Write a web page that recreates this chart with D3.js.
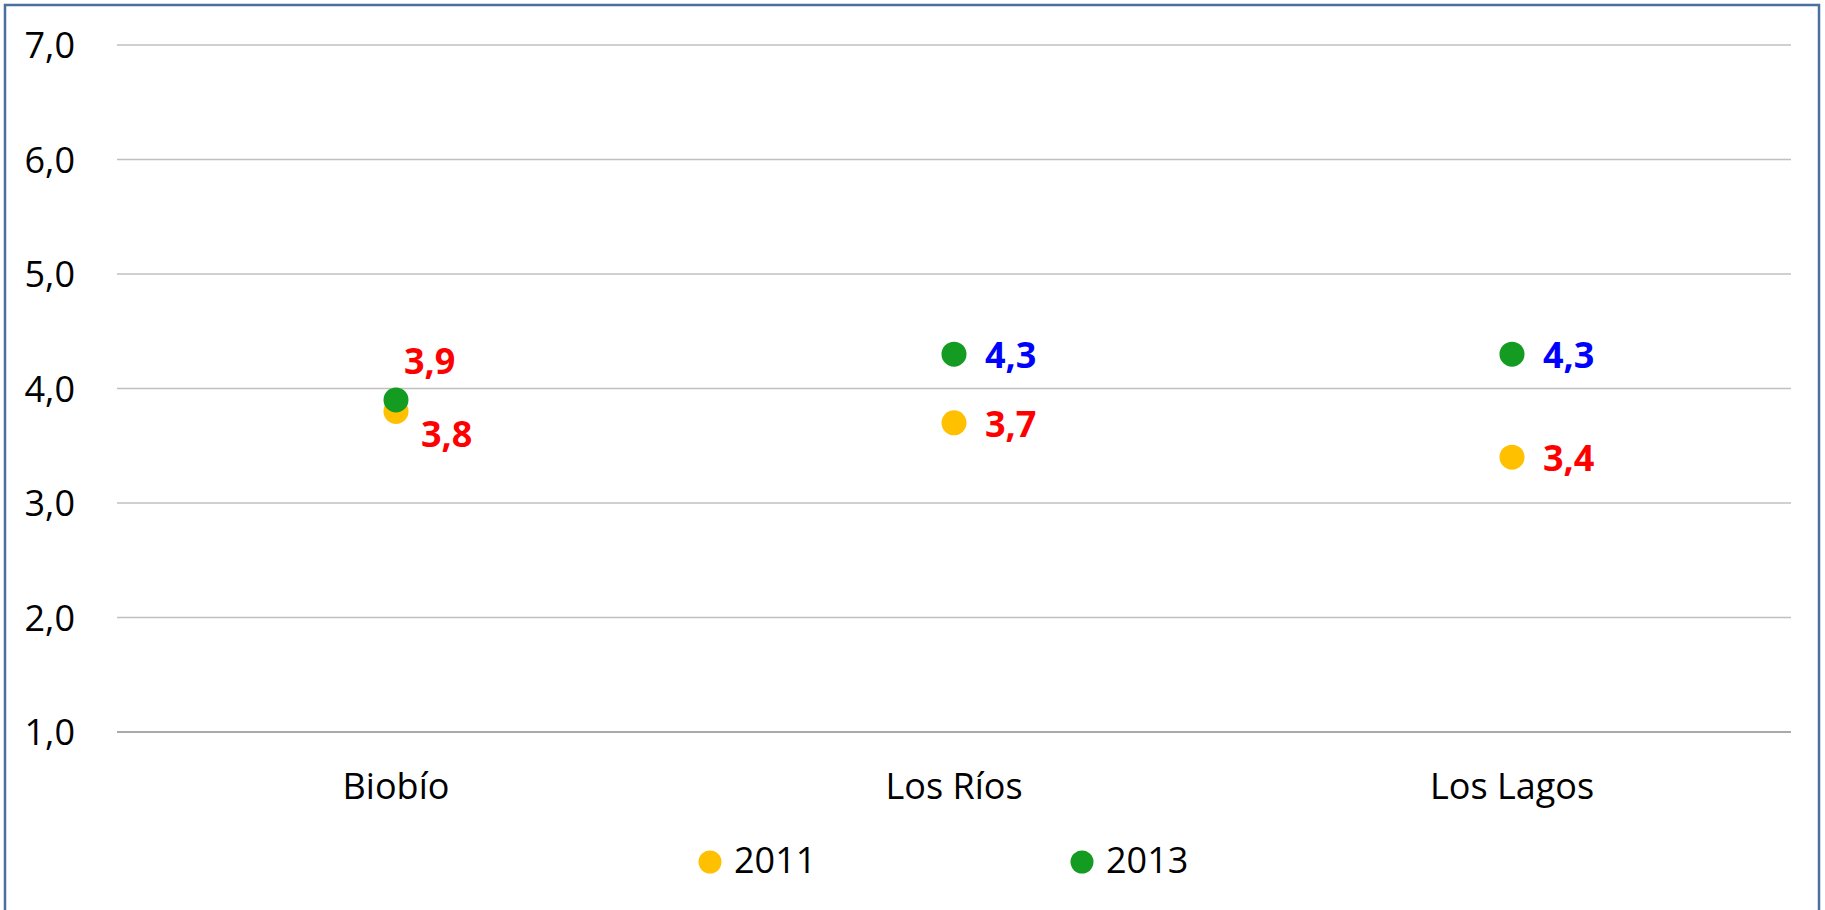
<!DOCTYPE html>
<html lang="es">
<head>
<meta charset="UTF-8">
<title>Biobío, Los Ríos, Los Lagos 2011 - 2013</title>
<script src="https://d3js.org/d3.v7.min.js"></script>
<style>
  html, body { margin: 0; padding: 0; background: #fff; }
  svg { display: block; font-family: "Open Sans", "DejaVu Sans", sans-serif; }
</style>
</head>
<body>
<svg id="chart" width="1825" height="910"></svg>
<script>
// data
const regions = ["Biobío", "Los Ríos", "Los Lagos"];
const years = ["2011", "2013"];
const values2011 = [3.8, 3.7, 3.4];
const values2013 = [3.9, 4.3, 4.3];
const yTicks = [1, 2, 3, 4, 5, 6, 7];

const seriesColor = { "2011": "#FFC000", "2013": "#149C22" };
// label text colour per point (as in the original)
const labelColor = {
  "2011": ["#FF0000", "#FF0000", "#FF0000"],
  "2013": ["#FF0000", "#0000FF", "#0000FF"]
};

const svg = d3.select("#chart");
const W = 1825, H = 910;
const margin = { top: 45, right: 34, bottom: 178, left: 117 };
const fontSize = "36px";

// outer frame (bottom edge runs off the picture)
svg.append("rect")
  .attr("x", 5).attr("y", 5)
  .attr("width", W - 11).attr("height", H + 10)
  .attr("fill", "none")
  .attr("stroke", "#4A6FA0")
  .attr("stroke-width", 2.5);

const x = d3.scaleBand().domain(regions).range([margin.left, W - margin.right]);
const y = d3.scaleLinear().domain([1, 7]).range([H - margin.bottom, margin.top]);

// gridlines
svg.append("g")
  .selectAll("line")
  .data(yTicks)
  .join("line")
  .attr("x1", margin.left).attr("x2", W - margin.right)
  .attr("y1", d => y(d)).attr("y2", d => y(d))
  .attr("stroke", d => d === 1 ? "#8C8C8C" : "#C0C0C0")
  .attr("stroke-width", 1.5);

const fmt = d => d3.format(".1f")(d).replace(".", ",");

// y axis labels
const yAxis = d3.axisLeft(y)
  .tickValues(yTicks)
  .tickFormat(fmt)
  .tickSize(0)
  .tickPadding(42);
const yg = svg.append("g").attr("transform", `translate(${margin.left},0)`).call(yAxis);
yg.attr("font-family", null).attr("font-size", null);
yg.select(".domain").remove();
yg.selectAll("text")
  .style("font-size", fontSize)
  .attr("fill", "#000")
  .attr("dy", "0.36em");

// x axis labels
const xAxis = d3.axisBottom(x).tickSize(0).tickPadding(41);
const xg = svg.append("g").attr("transform", `translate(0,${y(1)})`).call(xAxis);
xg.attr("font-family", null).attr("font-size", null);
xg.select(".domain").remove();
xg.selectAll("text")
  .style("font-size", fontSize)
  .attr("fill", "#000");

// points
const series = [
  { year: "2011", values: values2011 },
  { year: "2013", values: values2013 }
];

// label placement: [dx, dy to baseline] relative to the point
function labelOffset(year, i) {
  if (i === 0) return year === "2011" ? [25, 36] : [8, -26];
  return [31, 14];
}

series.forEach(s => {
  const g = svg.append("g");
  g.selectAll("circle")
    .data(s.values)
    .join("circle")
    .attr("cx", (d, i) => x(regions[i]) + x.bandwidth() / 2)
    .attr("cy", d => y(d))
    .attr("r", 12.5)
    .attr("fill", seriesColor[s.year]);

  g.selectAll("text")
    .data(s.values)
    .join("text")
    .attr("x", (d, i) => x(regions[i]) + x.bandwidth() / 2 + labelOffset(s.year, i)[0])
    .attr("y", (d, i) => y(d) + labelOffset(s.year, i)[1])
    .attr("fill", (d, i) => labelColor[s.year][i])
    .style("font-size", fontSize)
    .style("font-weight", "bold")
    .text(fmt);
});

// legend
const legendX = [710, 1082];
const legend = svg.append("g");
years.forEach((yr, i) => {
  legend.append("circle")
    .attr("cx", legendX[i]).attr("cy", 862)
    .attr("r", 11.5)
    .attr("fill", seriesColor[yr]);
  legend.append("text")
    .attr("x", legendX[i] + 24).attr("y", 873)
    .style("font-size", fontSize)
    .attr("fill", "#000")
    .text(yr);
});
</script>
</body>
</html>
